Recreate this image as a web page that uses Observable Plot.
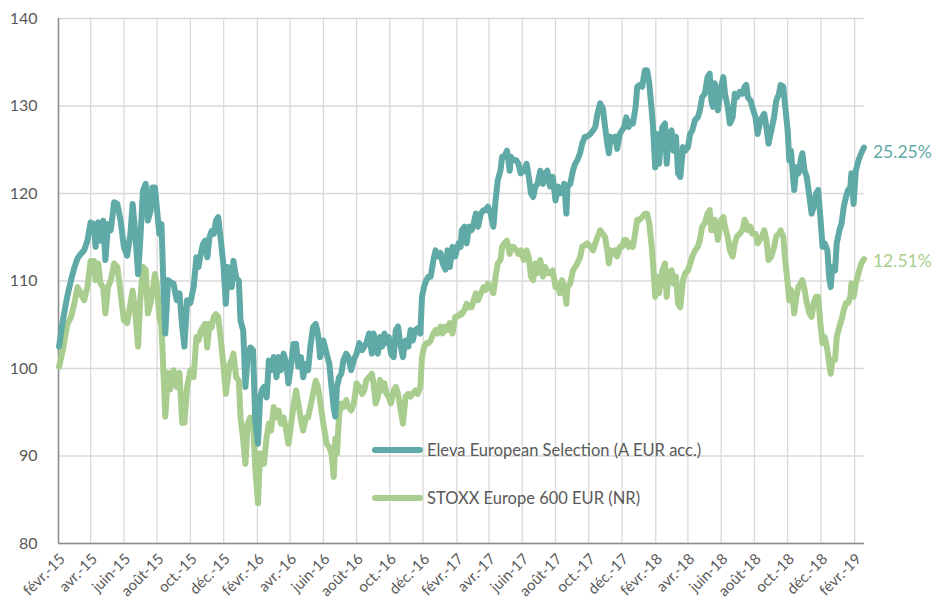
<!DOCTYPE html>
<html>
<head>
<meta charset="utf-8">
<script src="https://cdn.jsdelivr.net/npm/d3@7"></script>
<script src="https://cdn.jsdelivr.net/npm/@observablehq/plot@0.6"></script>
<style>
  body { margin: 0; background: #fff; }
  #wrap { position: relative; width: 933px; height: 606px; font-family: Lato, "Open Sans", sans-serif; }
  #legend { position: absolute; left: 372px; top: 437px; color: #595959; font-size: 16.5px; }
  .item { display: flex; align-items: center; height: 26px; margin-bottom: 22px; }
  .swatch { width: 51px; height: 6px; border-radius: 3px; margin-right: 4px; }
</style>
</head>
<body>
<div id="wrap"><div id="legend"></div></div>
<script>
// ---- data ----
const seriesNames = ["Eleva European Selection (A EUR acc.)", "STOXX Europe 600 EUR (NR)"];
const seriesColors = ["#5fa9a6", "#a9cd8e"];
const endLabels = ["25.25%", "12.51%"];

const dates = [
"2015-02-02","2015-02-09","2015-02-17","2015-02-24","2015-03-02","2015-03-08","2015-03-14","2015-03-20","2015-03-26","2015-04-01",
"2015-04-07","2015-04-10","2015-04-15","2015-04-19","2015-04-24","2015-04-28","2015-05-03","2015-05-08","2015-05-14","2015-05-20",
"2015-05-26","2015-06-01","2015-06-07","2015-06-13","2015-06-17","2015-06-22","2015-06-27","2015-07-01","2015-07-06","2015-07-11",
"2015-07-15","2015-07-20","2015-07-23","2015-07-28","2015-08-01","2015-08-05","2015-08-09","2015-08-13","2015-08-16","2015-08-21",
"2015-08-25","2015-08-31","2015-09-06","2015-09-11","2015-09-16","2015-09-20","2015-09-25",
"2015-10-01","2015-10-07","2015-10-12","2015-10-16","2015-10-20","2015-10-24","2015-10-28","2015-11-01","2015-11-05","2015-11-09",
"2015-11-13","2015-11-17","2015-11-21","2015-11-26","2015-12-01","2015-12-05","2015-12-09","2015-12-12","2015-12-16","2015-12-19",
"2015-12-24","2015-12-29","2016-01-01","2016-01-06","2016-01-10","2016-01-14","2016-01-19","2016-01-24","2016-01-28","2016-02-02",
"2016-02-06","2016-02-09","2016-02-13","2016-02-18","2016-02-22","2016-02-26","2016-03-02","2016-03-07","2016-03-11","2016-03-15",
"2016-03-20","2016-03-25","2016-03-29","2016-04-03","2016-04-07","2016-04-12","2016-04-16","2016-04-21","2016-04-25","2016-04-30",
"2016-05-04","2016-05-08","2016-05-13","2016-05-18","2016-05-22","2016-05-26","2016-06-01","2016-06-07",
"2016-06-12","2016-06-16","2016-06-20","2016-06-23","2016-06-26","2016-06-30","2016-07-04","2016-07-08","2016-07-13","2016-07-17",
"2016-07-22","2016-07-27","2016-08-01","2016-08-06","2016-08-11","2016-08-15","2016-08-19","2016-08-24","2016-08-29","2016-09-01",
"2016-09-05","2016-09-09","2016-09-13","2016-09-17","2016-09-21","2016-09-25","2016-09-29","2016-10-03","2016-10-08","2016-10-12",
"2016-10-16","2016-10-20","2016-10-25","2016-10-30","2016-11-04","2016-11-08","2016-11-12","2016-11-17","2016-11-21","2016-11-26",
"2016-11-29","2016-12-03","2016-12-07","2016-12-11","2016-12-15","2016-12-20","2016-12-24","2016-12-28","2017-01-02","2017-01-06",
"2017-01-11","2017-01-15","2017-01-19","2017-01-24","2017-01-29","2017-02-04","2017-02-08",
"2017-02-10","2017-02-15","2017-02-19","2017-02-23","2017-02-28","2017-03-04","2017-03-08","2017-03-12","2017-03-17","2017-03-22",
"2017-03-26","2017-03-30","2017-04-04","2017-04-09","2017-04-13","2017-04-17","2017-04-22","2017-04-25","2017-04-29","2017-05-04",
"2017-05-09","2017-05-11","2017-05-16","2017-05-21","2017-05-25","2017-05-29","2017-06-04","2017-06-09","2017-06-13","2017-06-17",
"2017-06-21","2017-06-25","2017-06-29","2017-07-04","2017-07-09","2017-07-13","2017-07-17","2017-07-22","2017-07-27","2017-08-01",
"2017-08-05","2017-08-09","2017-08-13","2017-08-17","2017-08-21","2017-08-23","2017-08-28","2017-09-02","2017-09-06","2017-09-10",
"2017-09-15","2017-09-19","2017-09-24","2017-09-28","2017-10-04","2017-10-09","2017-10-13","2017-10-17","2017-10-22",
"2017-10-27","2017-10-31","2017-11-04","2017-11-07","2017-11-10","2017-11-14","2017-11-19","2017-11-22","2017-11-27","2017-12-01",
"2017-12-05","2017-12-09","2017-12-13","2017-12-17","2017-12-21","2017-12-26","2017-12-29","2018-01-02","2018-01-07","2018-01-12",
"2018-01-16","2018-01-20","2018-01-24","2018-01-27","2018-01-31","2018-02-03","2018-02-07","2018-02-13","2018-02-18","2018-02-21",
"2018-02-25","2018-03-02","2018-03-06","2018-03-10","2018-03-14","2018-03-18","2018-03-23","2018-03-27","2018-04-01","2018-04-05",
"2018-04-09","2018-04-14","2018-04-19","2018-04-23","2018-04-27","2018-05-02","2018-05-07","2018-05-11","2018-05-14","2018-05-17",
"2018-05-20","2018-05-23","2018-05-26","2018-06-01","2018-06-05","2018-06-08","2018-06-13","2018-06-17",
"2018-06-22","2018-06-26","2018-06-30","2018-07-05","2018-07-10","2018-07-14","2018-07-17","2018-07-20","2018-07-25","2018-07-28",
"2018-08-03","2018-08-07","2018-08-11","2018-08-15","2018-08-19","2018-08-23","2018-08-27","2018-09-01","2018-09-06","2018-09-10",
"2018-09-15","2018-09-18","2018-09-23","2018-09-26","2018-10-01","2018-10-04","2018-10-07","2018-10-10","2018-10-13","2018-10-17",
"2018-10-21","2018-10-25","2018-10-28","2018-11-01","2018-11-05","2018-11-10","2018-11-14","2018-11-18","2018-11-22","2018-11-26",
"2018-11-30","2018-12-04","2018-12-08","2018-12-13","2018-12-16","2018-12-19","2018-12-22","2018-12-27","2018-12-30","2019-01-04",
"2019-01-08","2019-01-12","2019-01-16","2019-01-20","2019-01-24","2019-01-26","2019-01-30","2019-02-03","2019-02-08","2019-02-13",
"2019-02-18"
];

const eleva = [
102.5,105.5,108.2,110.1,111.5,112.6,113.1,113.5,114.6,116.7,
116.5,113.9,116.7,114.6,116.9,112.4,116.5,115.8,119.0,118.8,
116.9,113.9,112.9,115.4,118.8,115.4,110.8,114.6,120.3,121.1,
116.9,118.0,120.7,120.7,118.0,115.4,116.5,108.6,104.0,110.1,
109.9,109.7,107.8,108.6,104.8,102.5,107.8,
107.5,109.3,112.7,111.6,113.1,114.2,114.6,112.7,115.0,115.7,
115.4,116.9,117.3,114.6,111.6,107.4,111.6,110.8,109.3,112.3,
110.4,110.0,105.5,104.3,97.9,101.3,102.4,102.1,94.1,91.4,
96.7,97.5,97.9,96.7,100.9,99.8,101.3,99.0,101.3,99.8,
101.7,100.5,98.3,100.5,102.8,102.8,100.2,101.3,99.0,100.5,
99.8,102.4,104.7,105.1,104.0,101.3,103.2,101.7,
100.5,97.9,95.5,94.5,97.9,99.0,99.4,101.0,101.7,101.3,
99.8,101.0,101.7,102.9,102.1,102.5,102.9,104.0,101.7,104.0,
102.9,101.7,103.6,102.5,104.0,102.9,103.6,101.7,101.3,104.4,
104.8,102.9,101.3,103.2,102.5,104.4,103.2,104.4,104.6,104.0,
108.2,109.4,110.1,110.5,110.5,112.4,113.5,112.8,113.2,112.0,
111.3,113.5,111.6,113.9,112.8,114.3,113.9,
115.8,116.2,114.3,116.2,115.8,116.6,117.7,116.2,117.7,118.1,
118.1,118.5,117.7,116.2,119.2,121.5,122.6,124.2,124.2,124.9,
122.6,124.2,123.8,123.8,123.4,122.3,122.6,123.4,121.9,120.0,
119.6,120.8,121.1,122.6,121.1,122.3,122.6,120.8,121.9,119.2,
120.8,120.0,120.4,121.1,117.7,120.8,121.1,122.6,123.4,123.8,
124.6,125.7,126.5,126.5,126.8,127.2,127.6,129.1,130.3,
129.7,127.6,125.7,124.6,126.5,126.1,126.5,125.1,126.8,127.2,
127.6,128.7,127.6,128.2,128.0,129.9,132.2,132.4,132.2,134.1,
134.1,132.6,129.9,127.6,123.0,126.8,123.4,127.6,128.0,123.4,
126.8,127.2,124.9,126.5,122.3,121.9,125.3,124.9,125.3,126.8,
127.2,128.4,128.7,129.5,131.0,131.4,133.3,133.7,130.6,129.9,
132.6,131.8,129.5,132.2,133.3,131.4,129.9,128.0,
128.7,131.4,131.0,131.6,131.4,132.2,132.4,131.0,130.6,129.9,
128.7,126.8,128.0,128.7,129.1,127.6,125.7,127.2,128.7,130.6,
131.4,132.4,132.2,130.3,127.2,123.8,124.9,122.6,120.4,123.0,
122.3,123.8,124.6,122.6,121.9,119.6,117.7,118.5,120.0,120.4,
117.3,113.9,114.3,113.5,110.5,109.3,111.6,111.2,114.3,115.8,
116.6,118.5,119.6,120.4,120.7,122.3,118.8,122.6,123.8,124.6,
125.25
];

const stoxx = [
100.2,102.1,105.0,105.9,107.4,109.3,108.6,107.8,109.3,112.3,
112.3,110.1,112.0,109.7,109.3,106.3,109.3,110.1,112.0,111.6,
108.6,105.5,105.2,107.4,108.9,106.3,102.5,107.8,111.6,111.3,
106.3,107.5,108.6,110.8,109.3,105.9,104.8,99.0,94.5,99.5,
97.6,99.8,97.9,99.5,93.8,93.8,97.9,
99.8,99.0,103.6,103.2,104.3,104.7,105.1,102.4,105.1,104.7,
105.9,106.2,105.9,103.2,100.2,97.1,99.0,100.5,101.0,101.7,
99.0,98.6,94.4,91.8,89.1,93.7,94.4,94.1,88.7,84.6,
90.3,90.3,89.1,92.2,93.7,92.9,95.6,94.4,95.2,93.7,
94.4,92.9,91.4,93.7,95.6,97.5,96.0,94.1,92.9,94.4,
94.4,95.6,97.1,98.6,97.9,96.3,93.7,91.4,
91.0,90.3,87.6,92.0,90.3,94.8,96.0,95.6,96.4,95.6,
95.2,96.0,98.3,97.9,97.1,97.5,98.7,99.0,99.4,98.3,
96.0,96.8,98.7,97.5,98.3,97.1,96.8,96.0,97.5,97.9,
97.1,95.6,93.7,96.8,97.1,96.8,97.1,97.5,97.1,97.9,
101.3,102.5,102.9,102.9,103.2,104.0,104.4,104.0,104.8,104.0,
104.8,104.4,105.2,104.0,105.9,106.0,106.3,
106.2,106.7,107.4,107.0,107.0,107.8,108.6,107.8,108.6,109.3,
109.0,109.7,109.3,108.6,110.5,112.0,112.4,113.9,114.3,114.6,
113.1,113.9,113.9,113.5,113.1,113.5,112.4,113.5,112.7,110.5,
110.1,112.0,110.9,112.4,110.5,111.6,110.9,110.9,111.2,109.3,
109.7,108.6,110.1,109.3,107.4,109.3,109.7,111.2,111.6,112.0,
112.7,113.9,114.1,114.3,113.9,113.5,114.3,115.0,115.8,
115.4,115.0,113.5,112.0,113.5,113.1,113.5,112.8,113.9,113.9,
114.7,114.7,113.9,114.3,113.9,115.8,117.0,117.0,117.3,117.7,
117.7,116.6,114.3,112.0,108.2,110.5,108.6,111.2,112.0,108.2,
110.9,111.2,109.7,110.5,107.4,107.0,110.1,110.9,111.2,112.0,
112.8,113.5,113.9,114.7,116.2,116.6,117.7,118.1,115.8,115.8,
117.0,116.2,114.7,117.0,117.3,116.2,115.0,113.5,
112.8,114.3,115.1,115.4,115.8,117.0,116.6,115.8,116.2,115.4,
115.4,114.3,114.7,115.1,115.8,114.7,112.4,112.8,113.9,115.1,
115.4,115.8,115.1,112.8,109.7,107.8,109.0,108.2,106.3,108.2,
109.4,109.7,110.1,109.0,107.5,106.3,105.9,107.5,108.2,108.2,
105.2,102.9,103.6,102.1,100.6,99.4,101.0,101.0,103.6,104.8,
105.6,106.7,107.5,107.5,108.2,109.7,108.2,109.7,110.9,112.0,
112.51
];

const xDomain = ["2015-02-01", "2019-02-19"];
const tickDates = ["2015-02-01","2015-04-01","2015-06-01","2015-08-01","2015-10-01","2015-12-01",
"2016-02-01","2016-04-01","2016-06-01","2016-08-01","2016-10-01","2016-12-01",
"2017-02-01","2017-04-01","2017-06-01","2017-08-01","2017-10-01","2017-12-01",
"2018-02-01","2018-04-01","2018-06-01","2018-08-01","2018-10-01","2018-12-01","2019-02-01"];
const tickLabels = ["févr.-15","avr.-15","juin-15","août-15","oct.-15","déc.-15",
"févr.-16","avr.-16","juin-16","août-16","oct.-16","déc.-16",
"févr.-17","avr.-17","juin-17","août-17","oct.-17","déc.-17",
"févr.-18","avr.-18","juin-18","août-18","oct.-18","déc.-18","févr.-19"];
const yTicks = [80, 90, 100, 110, 120, 130, 140];

// ---- build ----
const parse = d3.utcParse("%Y-%m-%d");
const rows = dates.map((d, i) => ({date: parse(d), eleva: eleva[i], stoxx: stoxx[i]}));
const ticks = tickDates.map(parse);
const labelMap = new Map(ticks.map((t, i) => [+t, tickLabels[i]]));
const last = rows[rows.length - 1];
const gridColor = "#d9d9d9";
const axisColor = "#8c8c8c";

const chart = Plot.plot({
  width: 933,
  height: 606,
  marginLeft: 58,
  marginRight: 69,
  marginTop: 18,
  marginBottom: 63,
  style: {fontFamily: "Lato, 'Open Sans', sans-serif", color: "#595959", background: "white", overflow: "visible"},
  x: {type: "utc", domain: xDomain.map(parse)},
  y: {domain: [80, 140]},
  marks: [
    Plot.gridY(yTicks, {stroke: gridColor, strokeOpacity: 1, strokeWidth: 1.3}),
    Plot.gridX(ticks, {stroke: gridColor, strokeOpacity: 1, strokeWidth: 1.3}),
    Plot.ruleY([80], {stroke: axisColor, strokeWidth: 1.5}),
    Plot.ruleX([parse(xDomain[0])], {stroke: axisColor, strokeWidth: 1.5}),
    Plot.axisY(yTicks, {tickSize: 0, tickPadding: 21, fontSize: 16, label: null, fill: "#595959"}),
    Plot.axisX(ticks, {tickSize: 0, tickPadding: 13, dx: 4, tickRotate: -45, fontSize: 15, label: null, fill: "#595959",
      tickFormat: d => labelMap.get(+d)}),
    Plot.line(rows, {x: "date", y: "stoxx", stroke: seriesColors[1], strokeWidth: 6, strokeLinejoin: "round", strokeLinecap: "round"}),
    Plot.line(rows, {x: "date", y: "eleva", stroke: seriesColors[0], strokeWidth: 6, strokeLinejoin: "round", strokeLinecap: "round"}),
    Plot.text([last], {x: "date", y: "eleva", text: () => endLabels[0], dx: 9, dy: 5, textAnchor: "start", fill: seriesColors[0], fontSize: 17.5}),
    Plot.text([last], {x: "date", y: "stoxx", text: () => endLabels[1], dx: 9, dy: 2, textAnchor: "start", fill: seriesColors[1], fontSize: 17.5})
  ]
});
const wrap = document.getElementById("wrap");
wrap.insertBefore(chart, wrap.firstChild);

const legend = document.getElementById("legend");
seriesNames.forEach((name, i) => {
  const item = document.createElement("div");
  item.className = "item";
  const sw = document.createElement("div");
  sw.className = "swatch";
  sw.style.background = seriesColors[i];
  const label = document.createElement("span");
  label.textContent = name;
  item.appendChild(sw);
  item.appendChild(label);
  legend.appendChild(item);
});
</script>
</body>
</html>
